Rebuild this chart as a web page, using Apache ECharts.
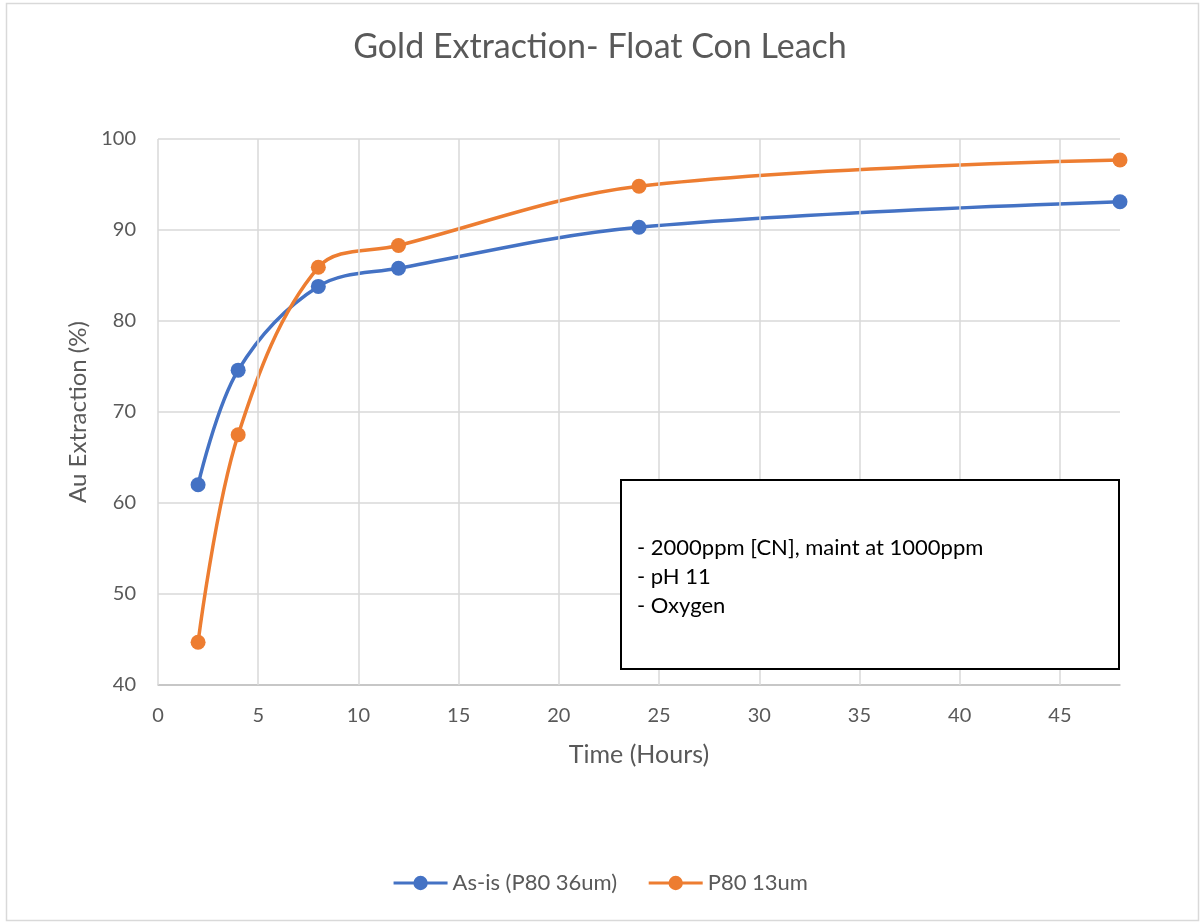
<!DOCTYPE html>
<html>
<head>
<meta charset="utf-8">
<script src="https://cdn.jsdelivr.net/npm/echarts@6/dist/echarts.min.js"></script>
<style>html,body{margin:0;padding:0;background:#fff}#c{width:1200px;height:922px}</style>
</head>
<body>
<div id="c"></div>
<script>
const hours = [2, 4, 8, 12, 24, 48];
const asIs = [62.0, 74.6, 83.8, 85.8, 90.3, 93.1];
const p80_13 = [44.7, 67.5, 85.9, 88.3, 94.8, 97.7];
const xGridTicks = [0, 5, 10, 15, 20, 25, 30, 35, 40, 45];
const seriesNames = ['As-is (P80 36um)', 'P80 13um'];
const noteLines = ['- 2000ppm [CN], maint at 1000ppm', '- pH 11', '- Oxygen'];

const FONT = 'Lato';
const chart = echarts.init(document.getElementById('c'));
const pairs = (ys) => hours.map((h, i) => [h, ys[i]]);

chart.setOption({
  animation: false,
  backgroundColor: '#fff',
  title: {
    text: 'Gold Extraction- Float Con Leach',
    left: 'center', top: 25,
    textStyle: { fontFamily: FONT, fontSize: 34, fontWeight: 'normal', color: '#595959' }
  },
  legend: {
    bottom: 23, left: 'center',
    itemWidth: 54, itemHeight: 18, itemGap: 30,
    lineStyle: { width: 3 },
    textStyle: { fontFamily: FONT, fontSize: 22, color: '#595959' },
    data: seriesNames
  },
  grid: { left: 158, right: 80, top: 139, bottom: 237 },
  xAxis: {
    type: 'value', min: 0, max: 48, interval: 5,
    name: 'Time (Hours)', nameLocation: 'middle', nameGap: 57,
    nameTextStyle: { fontFamily: FONT, fontSize: 25, color: '#595959' },
    axisLine: { show: true, lineStyle: { color: '#bfbfbf', width: 1.5 } },
    axisTick: { show: false },
    splitLine: { show: false },
    axisLabel: {
      fontFamily: FONT, fontSize: 20, color: '#595959', margin: 21,
      formatter: (v) => (v % 5 === 0 ? String(v) : '')
    }
  },
  yAxis: {
    type: 'value', min: 40, max: 100, interval: 10,
    name: 'Au Extraction (%)', nameLocation: 'middle', nameGap: 68,
    nameTextStyle: { fontFamily: FONT, fontSize: 24, color: '#595959' },
    axisLine: { show: false },
    axisTick: { show: false },
    splitLine: { show: true, lineStyle: { color: '#d9d9d9', width: 1.5 } },
    axisLabel: { fontFamily: FONT, fontSize: 20, color: '#595959', margin: 22 }
  },
  series: [
    {
      name: '__grid', type: 'line', data: [], silent: true, z: 0,
      markLine: {
        silent: true, symbol: ['none', 'none'],
        label: { show: false },
        lineStyle: { color: '#d9d9d9', width: 1.5, type: 'solid' },
        data: xGridTicks.map(v => ({ xAxis: v }))
      }
    },
    {
      name: seriesNames[0], type: 'line', data: pairs(asIs), smooth: 0.35,
      symbol: 'circle', symbolSize: 15, z: 3,
      lineStyle: { color: '#4472C4', width: 3.5 },
      itemStyle: { color: '#4472C4' }
    },
    {
      name: seriesNames[1], type: 'line', data: pairs(p80_13), smooth: 0.35,
      symbol: 'circle', symbolSize: 15, z: 4,
      lineStyle: { color: '#ED7D31', width: 3.5 },
      itemStyle: { color: '#ED7D31' }
    }
  ],
  graphic: [
    {
      type: 'rect', silent: true, z: -10,
      shape: { x: 6.5, y: 3.5, width: 1192, height: 917 },
      style: { fill: 'none', stroke: '#d9d9d9', lineWidth: 1.5 }
    },
    {
      type: 'rect', z: 10,
      shape: { x: 621, y: 480, width: 498, height: 189 },
      style: { fill: '#fff', stroke: '#000', lineWidth: 2 }
    },
    {
      type: 'text', z: 11, left: 637, top: 533,
      style: {
        text: noteLines.join('\n'), fontFamily: FONT, fontSize: 22,
        lineHeight: 29, fill: '#000'
      }
    }
  ]
});
</script>
</body>
</html>
